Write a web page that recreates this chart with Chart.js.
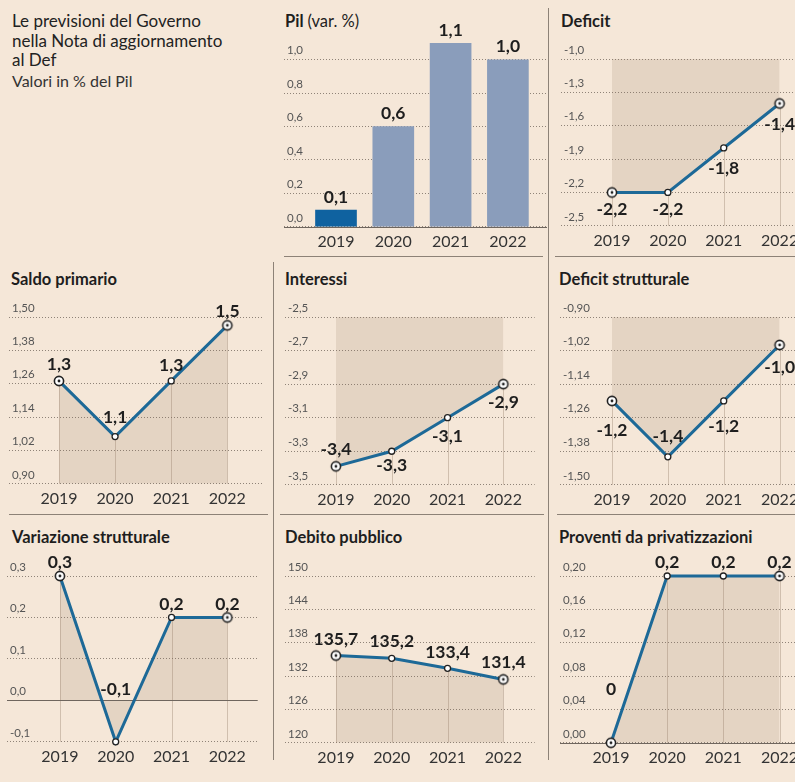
<!DOCTYPE html>
<html>
<head>
<meta charset="utf-8">
<script src="https://cdn.jsdelivr.net/npm/chart.js@4.4.1/dist/chart.umd.min.js"></script>
<style>
body{margin:0;width:795px;height:782px;overflow:hidden;background:#f5e7d8;font-family:Lato,sans-serif;color:#1e1e1e;position:relative}
.t{position:absolute;font-size:16.5px;line-height:18px;font-weight:700;white-space:nowrap}
.t span{font-weight:400}
canvas{position:absolute}
.hr{position:absolute;height:0;border-top:1.5px solid #8d8277}
.vr{position:absolute;width:0;border-left:1.5px solid #8d8277}
#intro{position:absolute;left:12px;top:11px;font-size:17px;line-height:19.5px;color:#222}
</style>
</head>
<body>

<div id="intro">
<div>Le previsioni del Governo<br>nella Nota di aggiornamento<br>al Def</div>
<div style="font-size:16px;margin-top:1.5px;color:#333">Valori in % del Pil</div>
</div>

<div class="t" style="left:285px;top:12px">Pil <span>(var. %)</span></div>
<div class="t" style="left:561px;top:12px">Deficit</div>
<div class="t" style="left:11px;top:270px">Saldo primario</div>
<div class="t" style="left:285px;top:270px">Interessi</div>
<div class="t" style="left:559px;top:270px">Deficit strutturale</div>
<div class="t" style="left:12px;top:528px">Variazione strutturale</div>
<div class="t" style="left:285px;top:528px">Debito pubblico</div>
<div class="t" style="left:559px;top:528px">Proventi da privatizzazioni</div>

<div class="hr" style="left:284px;top:256px;width:259px"></div>
<div class="hr" style="left:555px;top:256px;width:240px"></div>
<div class="hr" style="left:9px;top:514px;width:259px"></div>
<div class="hr" style="left:280px;top:514px;width:264px"></div>
<div class="hr" style="left:557px;top:514px;width:238px"></div>
<div class="vr" style="left:273px;top:262px;height:498px"></div>
<div class="vr" style="left:548px;top:8px;height:752px"></div>

<script>

const years = ['2019', '2020', '2021', '2022']

const pilValues = [0.1, 0.6, 1.1, 1.0]
const pilTicks = ['0,0', '0,2', '0,4', '0,6', '0,8', '1,0']

const deficitValues = [-2.2, -2.2, -1.8, -1.4]
const deficitTicks = ['-2,5', '-2,2', '-1,9', '-1,6', '-1,3', '-1,0']

const saldoValues = [1.27, 1.07, 1.27, 1.47]
const saldoTicks = ['0,90', '1,02', '1,14', '1,26', '1,38', '1,50']

const interessiValues = [-3.39, -3.3, -3.1, -2.9]
const interessiTicks = ['-3,5', '-3,3', '-3,1', '-2,9', '-2,7', '-2,5']

const defStrValues = [-1.2, -1.4, -1.2, -1.0]
const defStrTicks = ['-1,50', '-1,38', '-1,26', '-1,14', '-1,02', '-0,90']

const variazioneValues = [0.3, -0.1, 0.2, 0.2]
const variazioneTicks = ['-0,1', '0,0', '0,1', '0,2', '0,3']

const debitoValues = [135.7, 135.2, 133.4, 131.4]
const debitoTicks = ['120', '126', '132', '138', '144', '150']

const proventiValues = [0, 0.2, 0.2, 0.2]
const proventiTicks = ['0,00', '0,04', '0,08', '0,12', '0,16', '0,20']

function fmt(v)
{
if(v === 0) return '0'
return v.toFixed(1).replace('.', ',')
}

function num(s)
{
return parseFloat(s.replace(',', '.'))
}

// point marker for first / last year
const target = document.createElement('canvas')
target.width = 14
target.height = 14
const tc = target.getContext('2d')
tc.beginPath()
tc.arc(7, 7, 4.6, 0, Math.PI * 2)
tc.fillStyle = '#fff'
tc.fill()
tc.lineWidth = 1.6
tc.strokeStyle = '#222'
tc.stroke()
tc.beginPath()
tc.arc(7, 7, 1.4, 0, Math.PI * 2)
tc.fillStyle = '#222'
tc.fill()

const marks = {
id: 'marks',
beforeDatasetsDraw(chart, args, o)
{
const ctx = chart.ctx
const a = chart.chartArea
const y = chart.scales.y
if(o.drops)
{
ctx.save()
ctx.strokeStyle = 'rgba(140,118,96,0.35)'
ctx.lineWidth = 1
chart.getDatasetMeta(0).data.forEach(p => {
const x = Math.round(p.x) + 0.5
ctx.beginPath()
ctx.moveTo(x, p.y)
ctx.lineTo(x, a.bottom)
ctx.stroke()
})
ctx.restore()
}
if(y.min <= 0 && y.max >= 0)
{
const z = Math.round(y.getPixelForValue(0)) + 0.5
ctx.save()
ctx.strokeStyle = '#6f665e'
ctx.lineWidth = 1.2
ctx.beginPath()
ctx.moveTo(a.left, z)
ctx.lineTo(a.right, z)
ctx.stroke()
ctx.restore()
}
},
afterDatasetsDraw(chart, args, o)
{
const ctx = chart.ctx
const ds = chart.data.datasets[0]
ctx.save()
ctx.font = 'bold 17.5px Lato'
ctx.fillStyle = '#1e1e1e'
ctx.textAlign = 'center'
ctx.textBaseline = 'middle'
chart.getDatasetMeta(0).data.forEach((p, i) => {
ctx.fillText(fmt(ds.data[i].y), p.x, p.y + o.dy[i])
})
ctx.restore()
}
}

function makeChart(box, type, values, tickLabels, dy)
{
const canvas = document.createElement('canvas')
const left = box.left - 6
const top = box.top - 30
canvas.width = box.right - left
canvas.height = box.bottom + 29 - top
canvas.style.left = left + 'px'
canvas.style.top = top + 'px'
document.body.appendChild(canvas)

const tickVals = tickLabels.map(num)
const n = values.length

let dataset
if(type === 'bar')
{
dataset = {
data: values.map((v, i) => ({x: i, y: v})),
backgroundColor: c => c.dataIndex === 0 ? '#0f62a0' : '#8a9dbb',
barThickness: 41
}
}
else
{
dataset = {
data: values.map((v, i) => ({x: i, y: v})),
borderColor: '#1d6997',
borderWidth: 3,
fill: 'origin',
backgroundColor: 'rgba(150,120,95,0.17)',
pointStyle: c => (c.dataIndex === 0 || c.dataIndex === n - 1) ? target : 'circle',
pointRadius: 3,
pointBackgroundColor: '#fff',
pointBorderColor: '#222',
pointBorderWidth: 1.3,
tension: 0,
clip: false
}
}

return new Chart(canvas, {
type: type,
data: {datasets: [dataset]},
options: {
responsive: false,
animation: false,
events: [],
layout: {padding: {top: 30, left: 0, right: 0, bottom: 0}},
plugins: {
legend: {display: false},
tooltip: {enabled: false},
filler: {drawTime: 'beforeDatasetsDraw'},
marks: {dy: dy, drops: type === 'line'}
},
scales: {
x: {
type: 'linear',
offset: false,
min: -(box.x0 - box.left) / box.step,
max: (box.right - box.x0) / box.step,
afterBuildTicks: s => { s.ticks = years.map((_, i) => ({value: i})) },
ticks: {
callback: v => years[v],
font: {family: 'Lato', size: 16},
color: '#333',
padding: 5,
maxRotation: 0,
autoSkip: false
},
grid: {display: false, drawTicks: false},
border: {display: false}
},
y: {
min: Math.min(tickVals[0], ...values),
max: Math.max(tickVals[tickVals.length - 1], ...values),
afterBuildTicks: s => { s.ticks = tickVals.map(v => ({value: v})) },
ticks: {
mirror: true,
padding: 3,
labelOffset: -9,
autoSkip: false,
callback: (v, i) => tickLabels[i],
font: {family: 'Lato', size: 11.5},
color: '#555'
},
grid: {color: '#8f8378', lineWidth: 1, drawTicks: false},
border: {display: false, dash: [1, 2]}
}
}
},
plugins: [marks]
})
}

makeChart({left: 284, right: 547, top: 43, bottom: 227, x0: 336, step: 57.3}, 'bar', pilValues, pilTicks, [-13, -13, -13, -13])
makeChart({left: 561, right: 830, top: 59, bottom: 226, x0: 613, step: 57}, 'line', deficitValues, deficitTicks, [17, 17, 20, 21])
makeChart({left: 9, right: 268, top: 317, bottom: 484, x0: 60, step: 57.3}, 'line', saldoValues, saldoTicks, [-17, -19, -16, -14])
makeChart({left: 285, right: 540, top: 317, bottom: 485, x0: 337, step: 57}, 'line', interessiValues, interessiTicks, [-17, 14, 19, 18])
makeChart({left: 560, right: 830, top: 317, bottom: 485, x0: 613, step: 57}, 'line', defStrValues, defStrTicks, [29, -20, 25, 22])
makeChart({left: 7, right: 263, top: 576, bottom: 742, x0: 61, step: 57}, 'line', variazioneValues, variazioneTicks, [-14, -52, -13, -13])
makeChart({left: 285, right: 540, top: 576, bottom: 743, x0: 337, step: 57}, 'line', debitoValues, debitoTicks, [-16, -17, -16, -17])
makeChart({left: 560, right: 830, top: 576, bottom: 743, x0: 612, step: 57.3}, 'line', proventiValues, proventiTicks, [-53, -14, -14, -14])

</script>
</body>
</html>
